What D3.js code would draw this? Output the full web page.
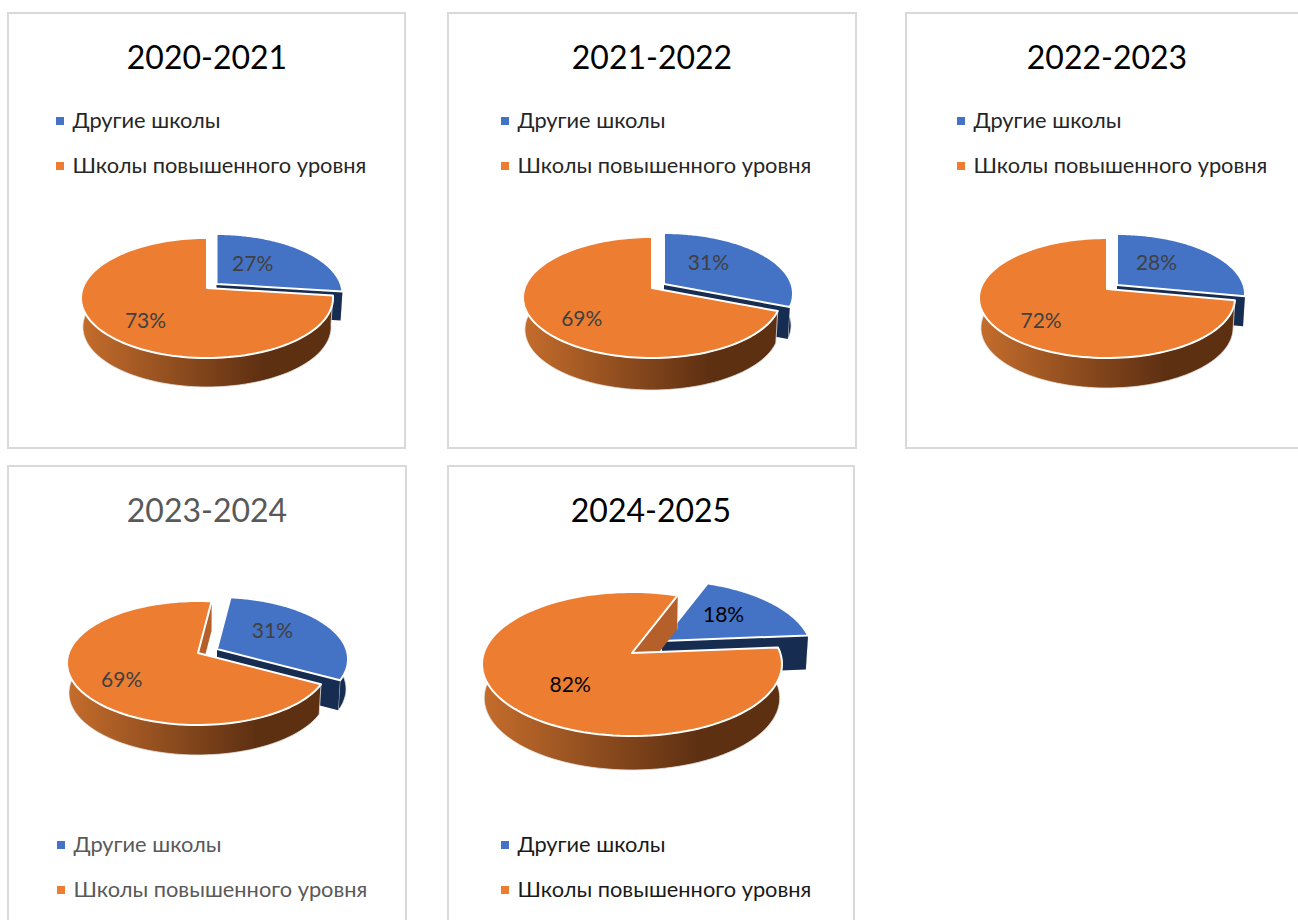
<!DOCTYPE html>
<html>
<head>
<meta charset="utf-8">
<style>
  html, body { margin: 0; padding: 0; background: #fff; overflow: hidden; }
  text { font-family: Lato, "Open Sans", sans-serif; }
</style>
<script src="https://cdn.jsdelivr.net/npm/d3@7"></script>
</head>
<body>
<div id="chart"></div>
<script>
const years = ["2020-2021", "2021-2022", "2022-2023", "2023-2024", "2024-2025"];
const categories = ["Другие школы", "Школы повышенного уровня"];
const otherSchools = [27, 31, 28, 31, 18];
const advancedSchools = [73, 69, 72, 69, 82];

const width = 1298;
const height = 920;

// panel box, pie apex, ellipse size above/below apex, slice rotation, explode offset of blue slice
const layout = [
  { x: 8, y: 13, w: 397, h: 435, titleX: 207, titleY: 69, cx: 207, cy: 288, up: 50, down: 70, rx: 126, depth: 29, rot: 0, ex: 9.5, ey: -4,
    legendX: 56, legendY: 121, titleColor: "#000", legendColor: "#262626", labelColor: "#404040",
    nudge: [[-8, -2], [7, 5]] },
  { x: 448, y: 13, w: 408, h: 435, titleX: 652, titleY: 69, cx: 652, cy: 288, up: 51, down: 70, rx: 129, depth: 32, rot: 0, ex: 12, ey: -4,
    legendX: 501, legendY: 121, titleColor: "#000", legendColor: "#262626", labelColor: "#404040",
    nudge: [[-6, -5], [6, 7]] },
  { x: 906, y: 13, w: 420, h: 435, titleX: 1107, titleY: 69, cx: 1107, cy: 289, up: 51, down: 69, rx: 128, depth: 30, rot: 0, ex: 10, ey: -4,
    legendX: 957, legendY: 121, titleColor: "#000", legendColor: "#262626", labelColor: "#404040",
    nudge: [[-7, -4], [5, 5]] },
  { x: 8, y: 466, w: 398, h: 480, titleX: 207, titleY: 522, cx: 198, cy: 653, up: 52, down: 72, rx: 131, depth: 30, rot: 7, ex: 19, ey: -4,
    legendX: 57, legendY: 845, titleColor: "#595959", legendColor: "#595959", labelColor: "#404040",
    nudge: [[0, -5], [6, 7]] },
  { x: 448, y: 466, w: 406, h: 480, titleX: 651, titleY: 522, cx: 632, cy: 653, up: 61, down: 83, rx: 150, depth: 34, rot: 20.6, ex: 30, ey: -12,
    legendX: 501, legendY: 845, titleColor: "#000", legendColor: "#1a1a1a", labelColor: "#000",
    nudge: [[5, -6], [24, 1]] }
];

const colors = d3.scaleOrdinal().domain(categories).range(["#4472C4", "#ED7D31"]);
const wallBlue = "#172C51";
const cutOrange = "#B5602A";
const sink = 0.985; // lower rim is a bit narrower than the top, perspective

const svg = d3.select("#chart")
  .append("svg")
  .attr("width", width)
  .attr("height", height)
  .attr("viewBox", [0, 0, width, height]);

const defs = svg.append("defs");
const line = d3.line();

layout.forEach((p, i) => {
  const g = svg.append("g");

  g.append("rect")
    .attr("x", p.x).attr("y", p.y)
    .attr("width", p.w).attr("height", p.h)
    .attr("fill", "#fff")
    .attr("stroke", "#D9D9D9")
    .attr("stroke-width", 2);

  g.append("text")
    .attr("x", p.titleX)
    .attr("y", p.titleY)
    .attr("text-anchor", "middle")
    .attr("font-size", 32)
    .attr("fill", p.titleColor)
    .text(years[i]);

  categories.forEach((c, j) => {
    const ly = p.legendY + j * 45;
    g.append("rect")
      .attr("x", p.legendX).attr("y", ly - 4)
      .attr("width", 8).attr("height", 8)
      .attr("fill", colors(c));
    g.append("text")
      .attr("x", p.legendX + 16.5).attr("y", ly + 7)
      .attr("font-size", 21.8)
      .attr("fill", p.legendColor)
      .text(c);
  });

  // perspective of the pie plane, a circle maps to the ellipse seen in the picture
  const k = (p.down - p.up) / (p.down + p.up);
  const ry = 2 * p.up * p.down / (p.up + p.down);
  const r = p.rx * Math.sqrt(1 - k * k);
  const project = (a, f = 1) => {
    const u = Math.sin(a) * f, v = -Math.cos(a) * f;
    const w = 1 - k * v;
    return [r * u / w, ry * v / w];
  };
  const down = q => [q[0] * sink, q[1] + p.depth];

  const gradId = "side" + i;
  const grad = defs.append("linearGradient")
    .attr("id", gradId)
    .attr("gradientUnits", "userSpaceOnUse")
    .attr("x1", -p.rx).attr("x2", p.rx)
    .attr("y1", 0).attr("y2", 0);
  grad.append("stop").attr("offset", 0).attr("stop-color", "#C56D2C");
  grad.append("stop").attr("offset", 0.72).attr("stop-color", "#5E3012");
  grad.append("stop").attr("offset", 1).attr("stop-color", "#5E3012");

  const pie = d3.pie().sort(null)
    .startAngle(p.rot * Math.PI / 180)
    .endAngle(p.rot * Math.PI / 180 + 2 * Math.PI);
  const slices = pie([otherSchools[i], advancedSchools[i]]);

  slices.forEach((s, j) => {
    const blue = j === 0;
    const ox = p.cx + (blue ? p.ex : 0);
    const oy = p.cy + (blue ? p.ey : 0);
    const sg = g.append("g").attr("transform", `translate(${ox},${oy})`);
    const angles = d3.range(0, 121).map(t => s.startAngle + (s.endAngle - s.startAngle) * t / 120);
    const arc = angles.map(a => project(a));
    const sunk = arc.map(down);

    // outer wall
    sg.append("path")
      .attr("d", line(arc.concat(sunk.slice().reverse())) + "Z")
      .attr("fill", blue ? wallBlue : `url(#${gradId})`)
      .attr("stroke", "#E4E4E4")
      .attr("stroke-width", 0.8);

    // cut face along the closing radius, the other one looks away from the viewer
    const q = arc[arc.length - 1];
    sg.append("path")
      .attr("d", line([[0, 0], q, down(q), [0, p.depth]]) + "Z")
      .attr("fill", blue ? wallBlue : cutOrange);

    // top
    sg.append("path")
      .attr("d", line([[0, 0]].concat(arc)) + "Z")
      .attr("fill", colors(categories[j]))
      .attr("stroke", "#fff")
      .attr("stroke-width", 2)
      .attr("stroke-linejoin", "round");

    const mid = (s.startAngle + s.endAngle) / 2;
    const lp = project(mid, blue ? 0.5 : 0.68);
    sg.append("text")
      .attr("x", lp[0] + p.nudge[j][0]).attr("y", lp[1] + 7 + p.nudge[j][1])
      .attr("text-anchor", "middle")
      .attr("font-size", 21)
      .attr("fill", p.labelColor)
      .text(s.value + "%");
  });
});
</script>
</body>
</html>
